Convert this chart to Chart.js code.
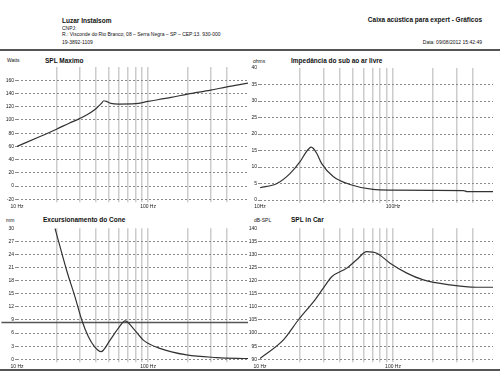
<!DOCTYPE html>
<html>
<head>
<meta charset="utf-8">
<script src="https://cdn.jsdelivr.net/npm/chart.js@4/dist/chart.umd.min.js"></script>
<style>
body{margin:0;width:500px;height:375px;background:#fff;position:relative;overflow:hidden;font-family:"Liberation Sans",Arial,sans-serif;color:#111}
.t{position:absolute;white-space:nowrap;line-height:1;font-size:5px}
.b{font-weight:bold;font-size:6.5px}
canvas{position:absolute}
.rule{position:absolute;left:0;width:500px;height:2px;background:#555}
</style>
</head>
<body>
<div class="t b" style="left:62px;top:18px">Luzar Instalsom</div>
<div class="t" style="left:62px;top:26px">CNPJ:</div>
<div class="t" style="left:62px;top:32px">R.: Visconde do Rio Branco, 08 – Serra Negra – SP – CEP:13. 930-000</div>
<div class="t" style="left:62px;top:40px">19-3892-1109</div>
<div class="t b" style="right:18px;top:17px">Caixa acústica para expert - Gráficos</div>
<div class="t" style="right:18px;top:40px">Data: 09/08/2012 15:42:49</div>
<div class="rule" style="top:49px"></div>

<div class="t" style="left:7px;top:58px">Watts</div>
<div class="t b" style="left:45px;top:58px">SPL Maximo</div>
<div class="t" style="left:253px;top:59px">ohms</div>
<div class="t b" style="left:291px;top:58px">Impedância do sub ao ar livre</div>
<div class="t" style="left:6px;top:218px">mm</div>
<div class="t b" style="left:43px;top:217px">Excursionamento do Cone</div>
<div class="t" style="left:254px;top:218px">dB-SPL</div>
<div class="t b" style="left:291px;top:217px">SPL in Car</div>

<canvas id="splMax" width="252" height="158" style="left:0;top:58px"></canvas>
<canvas id="imped" width="255" height="158" style="left:243px;top:58px"></canvas>
<canvas id="cone" width="252" height="150" style="left:0;top:218px"></canvas>
<canvas id="splCar" width="255" height="150" style="left:243px;top:218px"></canvas>
<div class="rule" style="top:369px"></div>

<script>
// frequencies (Hz) and values
const splMaxFreq = [10, 15, 20, 25, 30, 35, 40, 44, 46, 48, 52, 60, 80, 100, 150, 200, 300, 400, 579];
const splMaxWatts = [60, 75, 86, 95, 102, 109, 117, 125, 129, 128, 125, 124, 124.5, 128, 134, 139, 145, 150, 155.5];

const impFreq = [10, 13.4, 16.8, 20, 22, 23.4, 24.2, 25.2, 26.8, 29, 35.5, 47.5, 70.7, 100, 200, 340, 360, 564];
const impOhms = [3.7, 5, 8, 11.6, 14.3, 15.6, 16, 15.6, 14, 11.1, 7.1, 4.7, 3.2, 3.0, 2.9, 2.85, 2.55, 2.55];

const coneFreq = [19.5, 23.9, 27.7, 31.2, 35, 39, 43.8, 51.3, 60, 66.8, 77, 92, 123, 197, 334, 579];
const coneMm = [30, 20.4, 14.3, 9.0, 5.2, 2.9, 1.75, 4.4, 7.3, 8.8, 7.1, 4.4, 2.5, 1.0, 0.4, 0.15];
const coneXmax = 8.4;

const carFreq = [10, 15, 19.4, 25.9, 31.7, 34.6, 44.9, 53.3, 63.4, 75.4, 95, 127, 169, 268, 424, 564];
const carDb = [90.3, 97.4, 105, 112.7, 119, 121.5, 124.8, 128, 131.1, 130.5, 126.7, 122.9, 120.3, 118.4, 117.5, 117.5];

const hzTicks = [10, 20, 30, 40, 50, 60, 70, 80, 90, 100, 200, 300, 400];

function panel(id, o) {
  const datasets = [{
    data: o.xs.map((x, i) => ({ x: x, y: o.ys[i] })),
    borderColor: '#333', borderWidth: 1.2, pointRadius: 0,
    cubicInterpolationMode: 'monotone', fill: false
  }];
  if (o.hline !== undefined) {
    datasets.push({
      data: [{ x: 7.6, y: o.hline }, { x: o.xmax, y: o.hline }],
      borderColor: '#555', borderWidth: 1.5, pointRadius: 0, clip: false
    });
  }
  new Chart(document.getElementById(id), {
    type: 'line',
    data: { datasets: datasets },
    options: {
      responsive: false, animation: false, events: [],
      layout: { padding: { top: o.padTop, right: o.padRight, left: 0, bottom: 0 } },
      plugins: { legend: { display: false }, tooltip: { enabled: false } },
      scales: {
        x: {
          type: 'logarithmic', min: 10, max: o.xmax,
          afterBuildTicks: s => { s.ticks = hzTicks.map(v => ({ value: v })); },
          afterFit: s => { s.height = o.xh; },
          ticks: {
            autoSkip: false, maxRotation: 0, padding: 1, color: '#222',
            font: { family: 'Liberation Sans', size: 5 },
            callback: v => v === 10 ? o.hz[0] : (v === 100 ? o.hz[1] : '')
          },
          grid: {
            color: c => (c.tick && c.tick.value === 10) ? 'rgba(0,0,0,0)' : '#cccccc',
            lineWidth: 1.5, tickLength: 3
          },
          border: { display: false }
        },
        y: {
          min: o.ymin, max: o.ymax,
          afterFit: s => { s.width = o.yw; },
          ticks: {
            stepSize: o.step, padding: 1, color: '#222',
            font: { family: 'Liberation Sans', size: 5 },
            callback: v => (o.hideTop && v === o.ymax) ? '' : v
          },
          grid: {
            color: c => (c.tick && c.tick.value === o.ymax) ? 'rgba(0,0,0,0)' : '#8a8a8a',
            lineWidth: 1, tickLength: 2, tickBorderDash: [2, 2]
          },
          border: { display: false, dash: [2, 2] }
        }
      }
    }
  });
}

panel('splMax', { xs: splMaxFreq, ys: splMaxWatts, xmax: 579, ymin: -20, ymax: 180, step: 20, hideTop: true,
  yw: 17, padTop: 9, padRight: 4, xh: 16.7, hz: ['10 Hz', '100 Hz'] });
panel('imped', { xs: impFreq, ys: impOhms, xmax: 564, ymin: 0, ymax: 40, step: 5,
  yw: 17, padTop: 10, padRight: 5, xh: 16, hz: ['10Hz', '100Hz'] });
panel('cone', { xs: coneFreq, ys: coneMm, xmax: 579, ymin: 0, ymax: 30, step: 3, hline: coneXmax,
  yw: 17, padTop: 10.3, padRight: 4, xh: 8.7, hz: ['10 Hz', '100 Hz'] });
panel('splCar', { xs: carFreq, ys: carDb, xmax: 564, ymin: 90, ymax: 140, step: 5,
  yw: 17, padTop: 10.3, padRight: 5, xh: 8.7, hz: ['10 Hz', '100 Hz'] });
</script>
</body>
</html>
